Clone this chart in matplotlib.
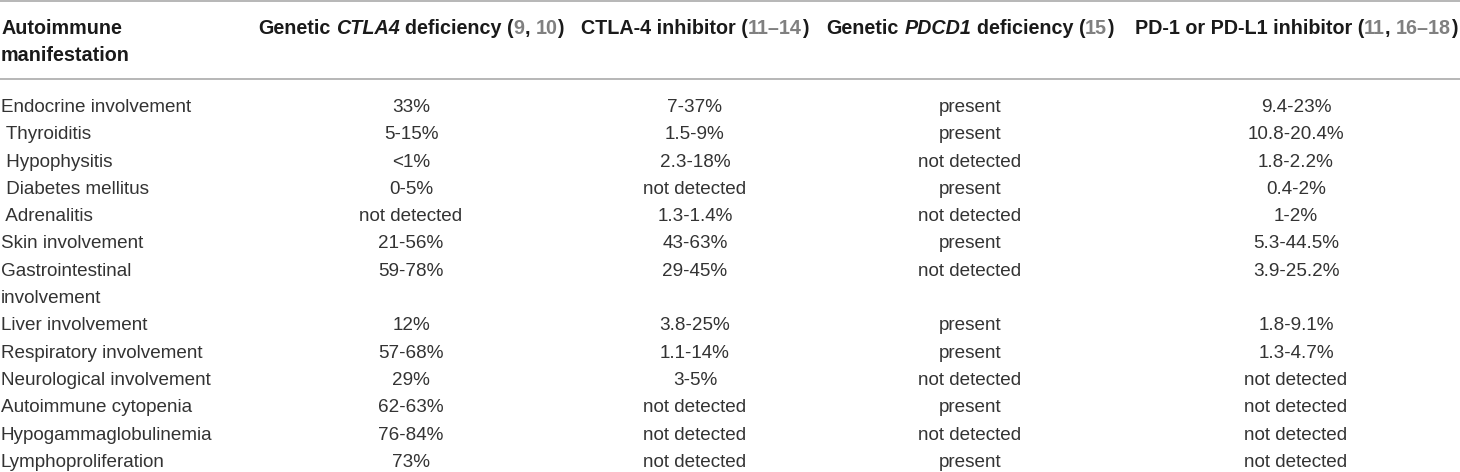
import matplotlib
matplotlib.use('Agg')
import matplotlib.pyplot as plt

plt.rcParams['font.family'] = ['Liberation Sans', 'DejaVu Sans']

# table content
manifestations = ['Endocrine involvement', ' Thyroiditis', ' Hypophysitis', ' Diabetes mellitus',
                  ' Adrenalitis', 'Skin involvement', 'Gastrointestinal\ninvolvement',
                  'Liver involvement', 'Respiratory involvement', 'Neurological involvement',
                  'Autoimmune cytopenia', 'Hypogammaglobulinemia', 'Lymphoproliferation']
ctla4_genetic = ['33%', '5-15%', '<1%', '0-5%', 'not detected', '21-56%', '59-78%',
                 '12%', '57-68%', '29%', '62-63%', '76-84%', '73%']
ctla4_inhibitor = ['7-37%', '1.5-9%', '2.3-18%', 'not detected', '1.3-1.4%', '43-63%', '29-45%',
                   '3.8-25%', '1.1-14%', '3-5%', 'not detected', 'not detected', 'not detected']
pdcd1_genetic = ['present', 'present', 'not detected', 'present', 'not detected', 'present',
                 'not detected', 'present', 'present', 'not detected', 'present',
                 'not detected', 'present']
pd1_inhibitor = ['9.4-23%', '10.8-20.4%', '1.8-2.2%', '0.4-2%', '1-2%', '5.3-44.5%', '3.9-25.2%',
                 '1.8-9.1%', '1.3-4.7%', 'not detected', 'not detected', 'not detected',
                 'not detected']

first_header = 'Autoimmune\nmanifestation'
# header pieces: (text, style)  b = bold, bi = bold italic, ref = citation number
headers = [
    [('Genetic ', 'b'), ('CTLA4', 'bi'), (' deficiency (', 'b'), ('9', 'ref'), (', ', 'b'),
     ('10', 'ref'), (')', 'b')],
    [('CTLA-4 inhibitor (', 'b'), ('11\u201314', 'ref'), (')', 'b')],
    [('Genetic ', 'b'), ('PDCD1', 'bi'), (' deficiency (', 'b'), ('15', 'ref'), (')', 'b')],
    [('PD-1 or PD-L1 inhibitor (', 'b'), ('11', 'ref'), (', ', 'b'), ('16\u201318', 'ref'),
     (')', 'b')],
]
columns = [ctla4_genetic, ctla4_inhibitor, pdcd1_genetic, pd1_inhibitor]

# layout
W, H = 1460, 472
col_x = [411, 695, 970, 1296]
left_x = 1
head_y = 27
body_y = 105
step = 27.3
fs_body = 13.6
fs_head = 14.2
txt_col = '#333333'
head_col = '#1a1a1a'
ref_col = '#808080'
rule_col = '#a3a3a3'
base_off = 7

styles = {
    'b': dict(fontweight='bold', color=head_col),
    'bi': dict(fontweight='bold', fontstyle='italic', color=head_col),
    'ref': dict(fontweight='bold', color=ref_col),
}

fig = plt.figure(figsize=(W / 100, H / 100), dpi=100)
ax = fig.add_axes([0, 0, 1, 1])
ax.set_xlim(0, W)
ax.set_ylim(H, 0)
ax.axis('off')
renderer = fig.canvas.get_renderer()


def ink(s, **kw):
    t = ax.text(0, 0, s, fontsize=fs_head, **kw)
    w = t.get_window_extent(renderer).width
    t.remove()
    return w


def advance(s, **kw):
    # text boxes only cover the ink, so measure between two bars
    return ink('|' + s + '|', **kw) - ink('||', **kw)


# rules
ax.axhline(0.8, color=rule_col, lw=1.1)
ax.axhline(78.5, color=rule_col, lw=1.1)

# header
for i, line in enumerate(first_header.split('\n')):
    ax.text(left_x, head_y + i * step + base_off, line, fontsize=fs_head, fontweight='bold',
            color=head_col, ha='left', va='baseline')

for cx, pieces in zip(col_x, headers):
    widths = [advance(s, **styles[st]) for s, st in pieces]
    x = cx - sum(widths) / 2
    for (s, st), w in zip(pieces, widths):
        lead = len(s) - len(s.lstrip(' '))
        sx = x + (advance(' ' * lead, **styles[st]) if lead else 0)
        ax.text(sx, head_y + base_off, s.strip(' '), fontsize=fs_head, ha='left',
                va='baseline', **styles[st])
        x += w

# body
line = 0
for r, label in enumerate(manifestations):
    y = body_y + line * step + base_off
    parts = label.split('\n')
    for k, p in enumerate(parts):
        ax.text(left_x, y + k * step, p, fontsize=fs_body, color=txt_col, ha='left',
                va='baseline')
    for cx, col in zip(col_x, columns):
        ax.text(cx, y, col[r], fontsize=fs_body, color=txt_col, ha='center', va='baseline')
    line += len(parts)

fig.savefig('out.png', dpi=100)
